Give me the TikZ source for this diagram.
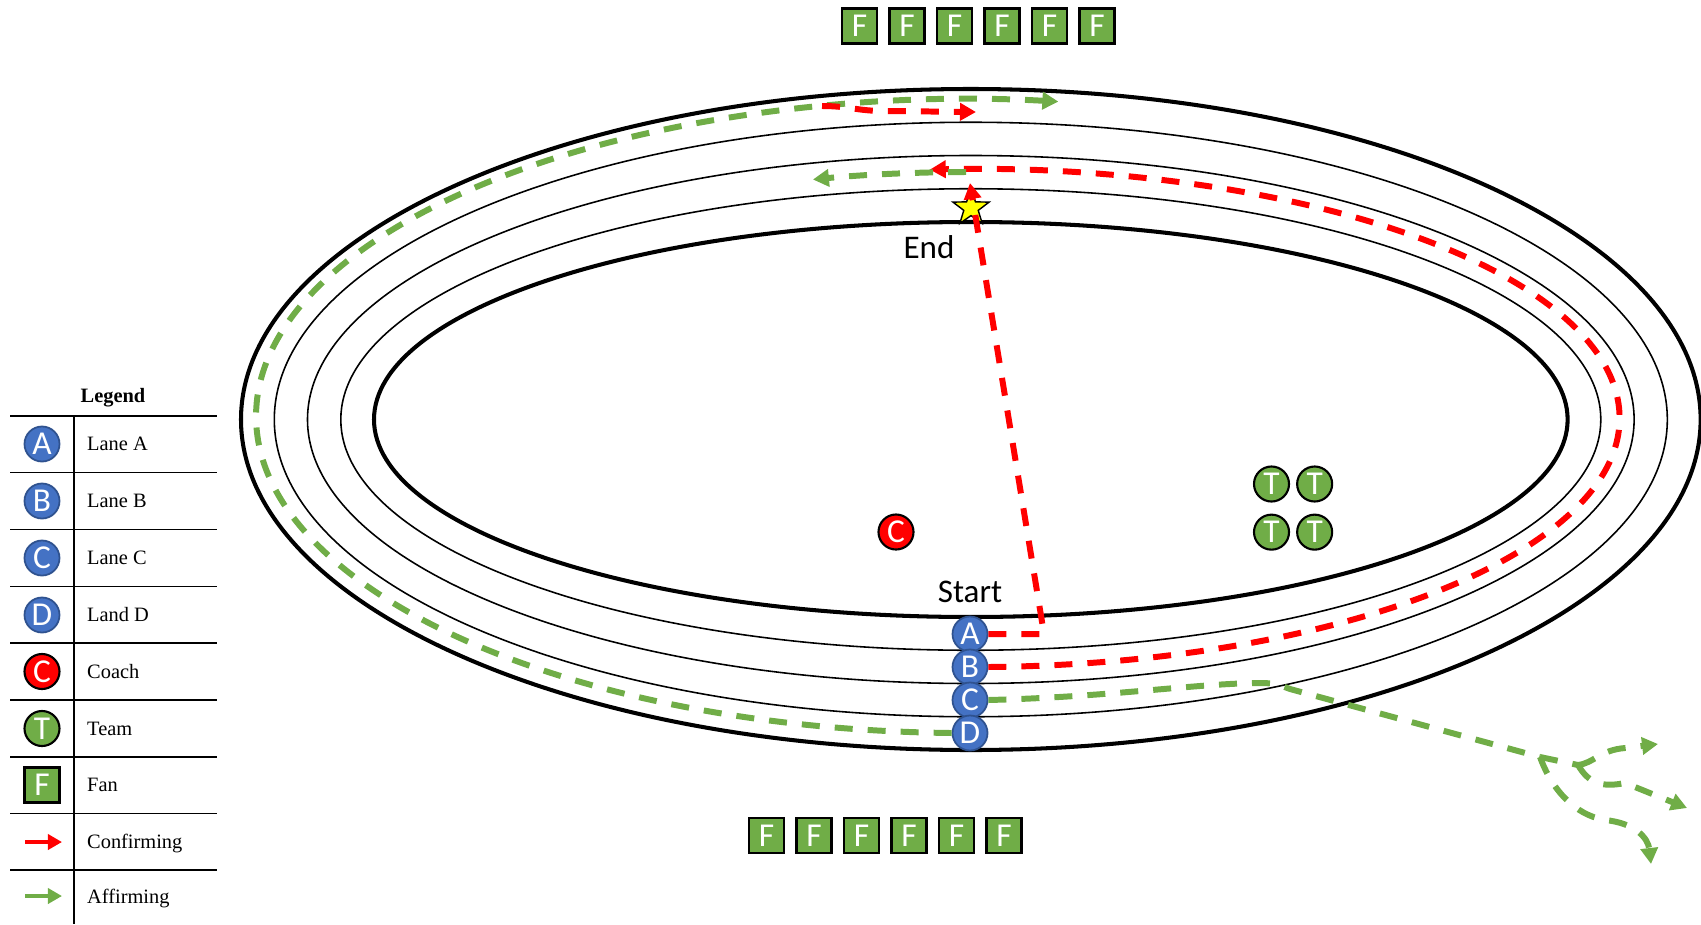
\documentclass[tikz,border=0pt]{standalone}
\usepackage{fontspec}
\setmainfont{Liberation Serif}
\newfontfamily\calibri{Carlito}
\usepackage{tikz}
\usetikzlibrary{arrows.meta, positioning, shapes.geometric}

\definecolor{laneblue}{RGB}{68, 114, 196}
\definecolor{laneedge}{RGB}{47, 82, 143}
\definecolor{fangreen}{RGB}{112, 173, 71}
\definecolor{coachred}{RGB}{255, 0, 0}
\definecolor{staryellow}{RGB}{255, 255, 0}
\tikzset{
  lanedot/.style={
    circle, fill=laneblue, draw=laneedge, line width=0.5pt,
    minimum size=0.35cm, inner sep=0pt,
    text=white, font=\calibri\fontsize{9.5}{9.5}\selectfont
  },
  coachdot/.style={
    circle, fill=coachred, draw=black, line width=0.6pt,
    minimum size=0.35cm, inner sep=0pt,
    text=white, font=\calibri\fontsize{9.5}{9.5}\selectfont
  },
  teamdot/.style={
    circle, fill=fangreen, draw=black, line width=0.6pt,
    minimum size=0.35cm, inner sep=0pt,
    text=white, font=\calibri\fontsize{9.5}{9.5}\selectfont
  },
  fanbox/.style={
    rectangle, fill=fangreen, draw=black, line width=0.7pt,
    minimum size=0.35cm, inner sep=0pt,
    text=white, font=\calibri\fontsize{9.5}{9.5}\selectfont
  },
  finish/.style={
    star, star points=5, star point ratio=2.5,
    fill=staryellow, draw=black, line width=0.4pt,
    minimum size=0.38cm, inner sep=0pt
  },
  trackbold/.style={draw=black, line width=1.15pt},
  trackthin/.style={draw=black, line width=0.45pt},
  confirm/.style={
    draw=coachred, line width=1.7pt, dash pattern=on 0.18cm off 0.15cm,
    -{Triangle[length=0.16cm,width=0.17cm]}
  },
  affirm/.style={
    draw=fangreen, line width=1.7pt, dash pattern=on 0.18cm off 0.15cm,
    -{Triangle[length=0.16cm,width=0.17cm]}
  },
  confirmkey/.style={draw=coachred, line width=1.4pt, -{Triangle[length=0.14cm,width=0.15cm]}},
  affirmkey/.style={draw=fangreen, line width=1.4pt, -{Triangle[length=0.14cm,width=0.15cm]}},
  keyline/.style={draw=black, line width=0.5pt},
  keytext/.style={anchor=west, inner sep=0pt, text height=3.8pt, text depth=0pt,
    font=\fontsize{5.8}{7}\selectfont},
  keyhead/.style={inner sep=0pt, text height=3.8pt, text depth=0pt,
    font=\fontsize{5.8}{7}\selectfont\bfseries},
  tracklabel/.style={inner sep=0pt, font=\calibri\fontsize{9.4}{10}\selectfont}
}

\begin{document}
\begin{tikzpicture}[x=0.01cm, y=-0.01cm]

  \useasboundingbox (0,0) rectangle (1701,924);

  % --- track: infield edge, lane lines, outer edge ---
  \coordinate (infield) at (970.8,419.5);
  \draw[trackbold] (infield) ellipse [x radius=596.8, y radius=197.5];
  \draw[trackthin] (infield) ellipse [x radius=630, y radius=230.75];
  \draw[trackthin] (infield) ellipse [x radius=663.3, y radius=264];
  \draw[trackthin] (infield) ellipse [x radius=696.5, y radius=297.25];
  \draw[trackbold] (infield) ellipse [x radius=729.8, y radius=330.5];

  \node[finish] (finish) at (971,208) {};
  \node[tracklabel] (endlbl) at (929,247) {End};
  \node[tracklabel] (startlbl) at (970,592) {Start};

  % --- runners on the start line ---
  \node[lanedot] (laneA) at (970,634) {A};
  \node[lanedot] (laneB) at (970,667) {B};
  \node[lanedot] (laneC) at (970,700) {C};
  \node[lanedot] (laneD) at (970,733) {D};

  \node[coachdot] (coach) at (896,532) {C};

  \node[teamdot] (team1) at (1271.5,484) {T};
  \node[teamdot, right=0.06cm of team1] (team2) {T};
  \node[teamdot, below=0.11cm of team1] (team3) {T};
  \node[teamdot, right=0.06cm of team3] (team4) {T};

  % --- fans above and below the track ---
  \node[fanbox] (fanN1) at (859.5,26) {F};
  \node[fanbox, right=0.1cm of fanN1] (fanN2) {F};
  \node[fanbox, right=0.1cm of fanN2] (fanN3) {F};
  \node[fanbox, right=0.1cm of fanN3] (fanN4) {F};
  \node[fanbox, right=0.1cm of fanN4] (fanN5) {F};
  \node[fanbox, right=0.1cm of fanN5] (fanN6) {F};

  \node[fanbox] (fanS1) at (766.5,835.5) {F};
  \node[fanbox, right=0.1cm of fanS1] (fanS2) {F};
  \node[fanbox, right=0.1cm of fanS2] (fanS3) {F};
  \node[fanbox, right=0.1cm of fanS3] (fanS4) {F};
  \node[fanbox, right=0.1cm of fanS4] (fanS5) {F};
  \node[fanbox, right=0.1cm of fanS5] (fanS6) {F};

  % --- lane A: cuts across the infield ---
  \coordinate (turn) at (1044,634);
  \coordinate (finishtip) at (970,183);
  \draw[confirm] (laneA.east) -- (turn) -- (finishtip);

  % --- lane B: round the right bend, then handed on ---
  \draw[confirm] (laneB.east) arc[start angle=88.6, end angle=-93.8, x radius=647, y radius=249];
  \coordinate (handoff) at (966,172);
  \draw[affirm] (handoff) arc[start angle=269.6, end angle=255.9, x radius=647, y radius=249];

  % --- lane D: round the left bend ---
  \draw[affirm] (laneD.west) arc[start angle=91.4, end angle=277.2, x radius=713, y radius=317];
  \coordinate (relay) at (822,106);
  \coordinate (relaytip) at (976,112);
  \draw[confirm] (relay) .. controls (848,106) and (858,111) .. (884,111) -- (relaytip);

  % --- lane C: leaves the track and splits ---
  \coordinate (exit) at (1290,689);
  \coordinate (fork1) at (1540,757);
  \coordinate (fork2) at (1578,765);
  \coordinate (tipa) at (1651,864);
  \coordinate (tipb) at (1658,744);
  \coordinate (tipc) at (1687,808);
  \draw[affirm, -] (laneC.east) .. controls (1110,697) and (1200,683) .. (1262,683)
    .. controls (1275,683) and (1282,686) .. (exit) -- (fork1);
  \draw[affirm] (fork1) .. controls (1552,790) and (1575,815) .. (1605,820)
    .. controls (1635,823) and (1648,838) .. (tipa);
  \draw[affirm, -] (fork1) -- (fork2);
  \draw[affirm] (fork2) .. controls (1594,763) and (1600,750) .. (1625,748) -- (tipb);
  \draw[affirm] (fork2) .. controls (1588,782) and (1600,788) .. (1625,783) -- (tipc);

  % --- legend ---
  \node[keyhead] (keytitle) at (113,396) {Legend};
  \draw[keyline] (10,416) -- (217,416);
  \draw[keyline] (10,472.5) -- (217,472.5);
  \draw[keyline] (10,529.5) -- (217,529.5);
  \draw[keyline] (10,586.5) -- (217,586.5);
  \draw[keyline] (10,643) -- (217,643);
  \draw[keyline] (10,700) -- (217,700);
  \draw[keyline] (10,757) -- (217,757);
  \draw[keyline] (10,813.5) -- (217,813.5);
  \draw[keyline] (10,870) -- (217,870);
  \draw[keyline] (74,416) -- (74,924);

  \node[lanedot] (keyA) at (42,444) {A};
  \node[lanedot] (keyB) at (42,501) {B};
  \node[lanedot] (keyC) at (42,558) {C};
  \node[lanedot] (keyD) at (42,615) {D};
  \node[coachdot] (keycoach) at (42,671.5) {C};
  \node[teamdot] (keyteam) at (42,728.5) {T};
  \node[fanbox] (keyfan) at (42,785) {F};
  \coordinate (keyredL) at (25,842);
  \coordinate (keyredR) at (62,842);
  \coordinate (keygreenL) at (25,896);
  \coordinate (keygreenR) at (62,896);
  \draw[confirmkey] (keyredL) -- (keyredR);
  \draw[affirmkey] (keygreenL) -- (keygreenR);

  \node[keytext] (keyAtxt) at (86.5,444) {Lane A};
  \node[keytext] (keyBtxt) at (86.5,501) {Lane B};
  \node[keytext] (keyCtxt) at (86.5,558) {Lane C};
  \node[keytext] (keyDtxt) at (86.5,615) {Land D};
  \node[keytext] (keycoachtxt) at (86.5,671.5) {Coach};
  \node[keytext] (keyteamtxt) at (86.5,728.5) {Team};
  \node[keytext] (keyfantxt) at (86.5,785) {Fan};
  \node[keytext] (keyredtxt) at (86.5,842) {Confirming};
  \node[keytext] (keygreentxt) at (86.5,897) {Affirming};

\end{tikzpicture}
\end{document}
